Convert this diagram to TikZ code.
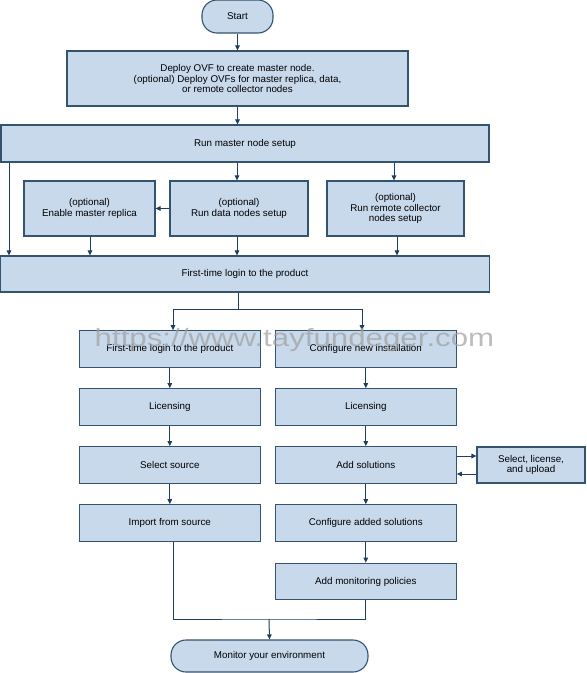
\documentclass[tikz,border=0pt]{standalone}
\usepackage{fontspec}
\setmainfont{Liberation Sans}
\usetikzlibrary{arrows.meta}
\definecolor{boxfill}{HTML}{C9D9EC}
\definecolor{boxline}{HTML}{34536F}
\definecolor{arrowcol}{HTML}{1F3F60}
\begin{document}
\begin{tikzpicture}[x=1pt,y=-1pt,
  box/.style={draw=boxline, fill=boxfill, line width=1.1pt, align=center, inner sep=2pt,
    font=\fontsize{9.8}{10.8}\selectfont},
  pill/.style={box, rounded corners=15pt},
  conn/.style={draw=arrowcol, line width=1pt},
  arr/.style={conn, -{Triangle[length=5pt,width=4.5pt]}}]
\useasboundingbox (0,0) rectangle (587,673);
\node[pill, minimum width=71pt, minimum height=33pt] (start) at (237.5,16.5) {Start};
\node[box, minimum width=341pt, minimum height=55pt] (deploy) at (237.5,78.5)
  {Deploy OVF to create master node.\\(optional) Deploy OVFs for master replica, data,\\or remote collector nodes};
\node[box, minimum width=488pt, minimum height=37pt] (master) at (245,143.5) {Run master node setup};
\node[box, minimum width=131pt, minimum height=55pt] (replica) at (89.5,208.5) {(optional)\\Enable master replica};
\node[box, minimum width=138pt, minimum height=55pt] (data) at (239,208.5) {(optional)\\Run data nodes setup};
\node[box, minimum width=137pt, minimum height=55pt] (remote) at (395.5,208.5) {(optional)\\Run remote collector\\nodes setup};
\node[box, minimum width=489pt, minimum height=36pt] (login) at (245,274) {First-time login to the product};

\node[box, minimum width=181pt, minimum height=36.5pt] (l1) at (169.8,349) {First-time login to the product};
\node[box, minimum width=181pt, minimum height=36.5pt] (l2) at (169.8,407) {Licensing};
\node[box, minimum width=181pt, minimum height=36.5pt] (l3) at (169.8,465) {Select source};
\node[box, minimum width=181pt, minimum height=36.5pt] (l4) at (169.8,523) {Import from source};

\node[box, minimum width=181pt, minimum height=36.5pt] (r1) at (365.8,349) {Configure new installation};
\node[box, minimum width=181pt, minimum height=36.5pt] (r2) at (365.8,407) {Licensing};
\node[box, minimum width=181pt, minimum height=36.5pt] (r3) at (365.8,465) {Add solutions};
\node[box, minimum width=181pt, minimum height=36.5pt] (r4) at (365.8,523) {Configure added solutions};
\node[box, minimum width=181pt, minimum height=36.5pt] (r5) at (365.8,581.5) {Add monitoring policies};
\node[box, minimum width=108pt, minimum height=36pt] (sel) at (531,465) {Select, license,\\and upload};

\node[pill, minimum width=197pt, minimum height=32pt] (mon) at (269.5,656) {Monitor your environment};

% connectors
\draw[arr] (start.south) -- (deploy.north);
\draw[arr] (237.5,0 |- deploy.south) -- (237.5,0 |- master.north);
\draw[arr] (9,0 |- master.south) -- (9,0 |- login.north);
\draw[arr] (237,0 |- master.south) -- (237,0 |- data.north);
\draw[arr] (394,0 |- master.south) -- (394,0 |- remote.north);
\draw[arr] (data.west) -- (replica.east);
\draw[arr] (90,0 |- replica.south) -- (90,0 |- login.north);
\draw[arr] (237,0 |- data.south) -- (237,0 |- login.north);
\draw[arr] (397,0 |- remote.south) -- (397,0 |- login.north);
\coordinate (split) at (238,309);
\draw[conn] (238,0 |- login.south) -- (split);
\draw[arr] (split) -| (173,0 |- l1.north);
\draw[arr] (split) -| (362,0 |- r1.north);
\draw[arr] (l1) -- (l2);
\draw[arr] (l2) -- (l3);
\draw[arr] (l3) -- (l4);
\draw[arr] (r1) -- (r2);
\draw[arr] (r2) -- (r3);
\draw[arr] (r3) -- (r4);
\draw[arr] (r4) -- (r5);
\draw[arr] (r3.east |- 0,456) -- (sel.west |- 0,456);
\draw[arr] (sel.west |- 0,474) -- (r3.east |- 0,474);
\coordinate (join) at (269,619);
\draw[conn] (173,0 |- l4.south) |- (join) -| (365,0 |- r5.south);
\draw[arr] (join) -- (mon.north);

% watermark
\node[text=gray!75, opacity=0.7, font=\fontsize{25}{25}\selectfont, inner sep=0pt, anchor=base] (wm) at (294.5,346)
  {\scalebox{1.25}[1]{https://www.tayfundeger.com}};
\end{tikzpicture}
\end{document}
